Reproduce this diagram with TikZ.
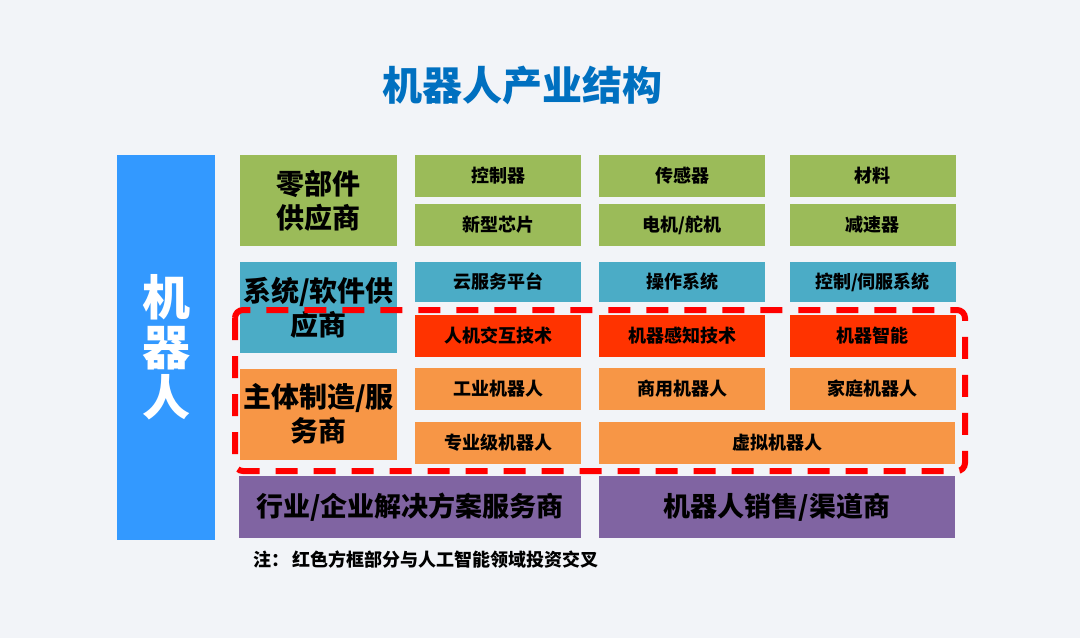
\documentclass[tikz,border=0pt]{standalone}
\usepackage{fontspec}
\setmainfont{Noto Sans CJK SC}
\usetikzlibrary{positioning}
\definecolor{pagebg}{HTML}{F2F4F8}
\definecolor{titleblue}{HTML}{0070C0}
\definecolor{barblue}{HTML}{3399FF}
\definecolor{partgreen}{HTML}{9BBB59}
\definecolor{softteal}{HTML}{4BACC6}
\definecolor{aired}{HTML}{FF3300}
\definecolor{makeorange}{HTML}{F79646}
\definecolor{servpurple}{HTML}{8064A2}
\definecolor{framered}{HTML}{FF0000}
\tikzset{
  cell/.style={inner sep=0pt, minimum width=166pt, minimum height=42pt, font=\fontsize{18}{22}\selectfont\bfseries},
  head/.style={inner sep=0pt, minimum width=157pt, minimum height=91pt, align=center, font=\fontsize{28}{34}\selectfont\bfseries},
  wide/.style={inner sep=0pt, minimum height=62pt, fill=servpurple, font=\fontsize{27}{32}\selectfont\bfseries},
  crossframe/.style={draw=framered, line width=6pt, dash pattern=on 22pt off 16pt, rounded corners=8pt}
}

\begin{document}
\begin{tikzpicture}[x=1pt, y=-1pt]
\fill[pagebg] (0,0) rectangle (1080,638);
\useasboundingbox (0,0) rectangle (1080,638);
\node[text=titleblue, font=\fontsize{40}{48}\selectfont\bfseries] (title) at (522,85) {机器人产业结构};
\node[fill=barblue, minimum width=98pt, minimum height=385pt, inner sep=0pt, align=center, text=white, font=\fontsize{48}{50}\selectfont\bfseries] (robot) at (166,347.5) {机\\器\\人};
\node[head, fill=partgreen] (parts) at (318.5,200.5) {零部件\\供应商};
\node[head, fill=softteal] (soft) at (318.5,307.5) {系统/软件供\\应商};
\node[head, fill=makeorange] (maker) at (318.5,414) {主体制造/服\\务商};
\node[cell, fill=partgreen] (ctrl) at (498,176) {控制器};
\node[cell, fill=partgreen] (sensor) at (682,176) {传感器};
\node[cell, fill=partgreen] (material) at (872.5,176) {材料};
\node[cell, fill=partgreen] (chip) at (498,225) {新型芯片};
\node[cell, fill=partgreen] (motor) at (682,225) {电机/舵机};
\node[cell, fill=partgreen] (reducer) at (872.5,225) {减速器};
\node[cell, fill=softteal, minimum height=40pt] (cloud) at (498,282) {云服务平台};
\node[cell, fill=softteal, minimum height=40pt] (os) at (682,282) {操作系统};
\node[cell, fill=softteal, minimum height=40pt] (servo) at (872.5,282) {控制/伺服系统};
\node[cell, fill=aired] (hci) at (498,335.5) {人机交互技术};
\node[cell, fill=aired] (percept) at (682,335.5) {机器感知技术};
\node[cell, fill=aired] (intel) at (872.5,335.5) {机器智能};
\node[cell, fill=makeorange] (industry) at (498,389) {工业机器人};
\node[cell, fill=makeorange] (commerce) at (682,389) {商用机器人};
\node[cell, fill=makeorange] (home) at (872.5,389) {家庭机器人};
\node[cell, fill=makeorange] (pro) at (498,443) {专业级机器人};
\node[cell, fill=makeorange, minimum width=356pt] (virtual) at (777,443) {虚拟机器人};
\node[wide, minimum width=342pt] (solution) at (410,507) {行业/企业解决方案服务商};
\node[wide, minimum width=356pt] (channel) at (777,507) {机器人销售/渠道商};
\draw[crossframe] (235,310) rectangle (965,471);
\node[anchor=west, font=\fontsize{18}{22}\selectfont\bfseries] (note) at (250,560) {注：\,红色方框部分与人工智能领域投资交叉};
\end{tikzpicture}
\end{document}
